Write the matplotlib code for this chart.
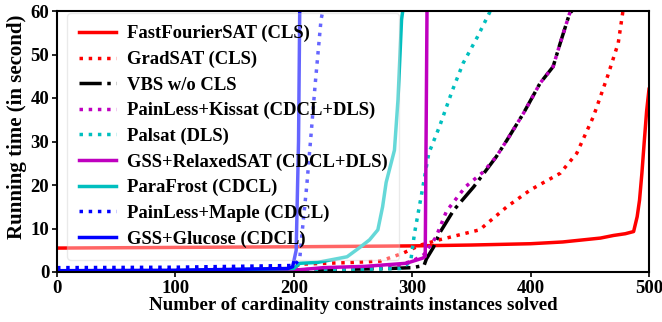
import matplotlib
matplotlib.use("Agg")
import matplotlib.pyplot as plt

plt.rcParams['font.family'] = ['Liberation Serif', 'DejaVu Serif']
plt.rcParams['font.weight'] = 'bold'
plt.rcParams['font.size'] = 13.5

# ---- data (cactus plot: instances solved vs running time) ----
ffsat_x = [0, 100, 200, 300, 350, 400, 427, 459, 470, 480, 487, 490, 492, 494, 496, 498, 500]
ffsat_y = [5.5, 5.65, 5.8, 6.0, 6.2, 6.5, 6.9, 7.8, 8.4, 8.8, 9.3, 12.7, 16.5, 22.7, 30, 37, 42]

grad_x = [0, 100, 200, 205, 250, 273, 292, 307, 323, 357, 380, 400, 425, 439, 453, 465, 474, 478]
grad_y = [0.3, 0.5, 1.0, 1.8, 2.2, 2.5, 4.3, 6.2, 7.4, 9.7, 15, 18.9, 22.7, 27.3, 35.7, 45, 52.6, 60]

vbs_x = [0, 100, 200, 280, 300, 310, 312, 318, 323, 335, 352, 371, 380, 394, 408, 419, 425, 433, 435]
vbs_y = [0.1, 0.2, 0.4, 0.8, 1.0, 1.5, 3.0, 5.7, 8.9, 14.2, 19.6, 26.5, 30.3, 36.5, 43.4, 47.2, 52.6, 59.5, 60]

kissat_x = [0, 100, 200, 280, 300, 310, 320, 329, 345, 360, 371, 380, 394, 408, 419, 425, 433, 435]
kissat_y = [0.2, 0.3, 0.5, 1.0, 2.5, 4.0, 8.0, 14.0, 19.6, 23.0, 26.5, 30.3, 36.5, 43.4, 47.2, 52.6, 59.5, 60]

palsat_x = [0, 100, 200, 290, 297, 299, 302, 308, 314, 323, 334, 343, 355, 366]
palsat_y = [0.1, 0.2, 0.3, 0.8, 2.0, 3.0, 9.0, 18, 27.3, 33.4, 41.8, 48, 54, 60]

relaxed_x = [0, 100, 200, 225, 260, 295, 309, 311, 312.5]
relaxed_y = [0.1, 0.2, 0.4, 1.0, 1.3, 2.0, 3.2, 3.6, 60]

parafrost_x = [0, 100, 200, 205, 220, 245, 256, 264, 271, 275, 278, 285, 288, 291, 292]
parafrost_y = [0.1, 0.3, 0.8, 2.0, 2.2, 3.5, 5.7, 7.4, 9.7, 15, 20.6, 28, 39.6, 58, 60]

maple_x = [0, 100, 200, 205, 207, 211, 215, 218, 223, 224.5]
maple_y = [1.0, 1.1, 1.5, 3.0, 9.0, 20, 33, 43, 58, 60]

glucose_x = [0, 100, 195, 199, 202, 204, 205]
glucose_y = [0.3, 0.4, 0.8, 1.2, 5.0, 30, 60]

labels = ["FastFourierSAT (CLS)", "GradSAT (CLS)", "VBS w/o CLS",
          "PainLess+Kissat (CDCL+DLS)", "Palsat (DLS)", "GSS+RelaxedSAT (CDCL+DLS)",
          "ParaFrost (CDCL)", "PainLess+Maple (CDCL)", "GSS+Glucose (CDCL)"]

fig = plt.figure(figsize=(6.62, 3.22), dpi=100)
ax = fig.add_axes([57/662, 1-272/322, (649-57)/662, (272-11)/322])

lw = 2.5
ax.plot(ffsat_x, ffsat_y, color='red', ls='-', lw=lw, label=labels[0])
ax.plot(grad_x, grad_y, color='red', ls=':', lw=lw, label=labels[1])
ax.plot(vbs_x, vbs_y, color='black', ls='-.', lw=lw, label=labels[2])
ax.plot(kissat_x, kissat_y, color='m', ls=':', lw=lw, label=labels[3])
ax.plot(palsat_x, palsat_y, color='c', ls=':', lw=lw, label=labels[4])
ax.plot(relaxed_x, relaxed_y, color='m', ls='-', lw=lw, label=labels[5])
ax.plot(parafrost_x, parafrost_y, color='c', ls='-', lw=lw, label=labels[6])
ax.plot(maple_x, maple_y, color='blue', ls=':', lw=lw, label=labels[7])
ax.plot(glucose_x, glucose_y, color='blue', ls='-', lw=lw, label=labels[8])

ax.set_xlim(0, 500)
ax.set_ylim(0, 60)
ax.set_xticks([0, 100, 200, 300, 400, 500])
ax.set_yticks([0, 10, 20, 30, 40, 50, 60])
ax.set_xlabel("Number of cardinality constraints instances solved", fontweight='bold',
              fontsize=13.6, labelpad=0)
ax.set_ylabel("Running time (in second)", fontweight='bold', fontsize=15)
ax.yaxis.set_label_coords(-0.05, 0.556)
for s in ax.spines.values():
    s.set_linewidth(1.5)
ax.tick_params(width=1.2, length=3.5, pad=2, labelsize=13.5)

leg = ax.legend(loc='upper left', bbox_to_anchor=(10/592, 1-2/261), borderaxespad=0,
                framealpha=0.4, handlelength=2.0, handletextpad=0.55, labelspacing=0.45,
                borderpad=0.65, fontsize=13.4)

fig.savefig("out.png", dpi=100)
